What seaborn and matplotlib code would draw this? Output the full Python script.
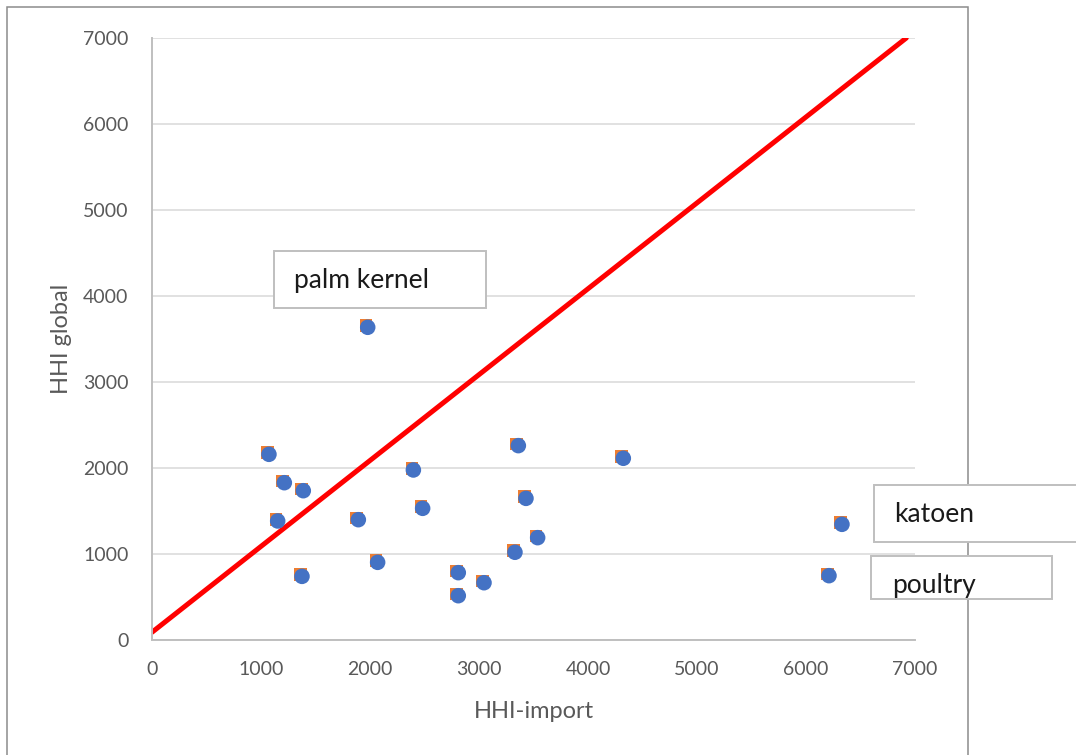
import numpy as np
import pandas as pd
import matplotlib
matplotlib.use("Agg")
import matplotlib.pyplot as plt
import matplotlib.patches as patches
from matplotlib.transforms import offset_copy
import seaborn as sns

# HHI values per product
hhi_import = [1073, 1214, 1388, 1153, 1893, 2398, 2483, 2070, 1376, 3361,
              4324, 3431, 3538, 3330, 2810, 2810, 3046, 1979, 6330, 6211]
hhi_global = [2159, 1829, 1736, 1384, 1399, 1977, 1531, 903, 740, 2260,
              2113, 1647, 1190, 1020, 783, 515, 666, 3636, 1345, 748]

# reference line
line_x = [0, 6920]
line_y = [90, 7000]

ticks = [0, 1000, 2000, 3000, 4000, 5000, 6000, 7000]

df = pd.DataFrame({"import": hhi_import, "global": hhi_global})
ref = pd.DataFrame({"x": line_x, "y": line_y})

sns.set_style("white")
plt.rcParams['font.family'] = ['Lato', 'DejaVu Sans']

fig = plt.figure(figsize=(10.76, 7.55), dpi=100)
W, H = 1076, 755

# outer chart frame
fig.patches.append(patches.Rectangle((7 / W, -0.01), (968 - 7) / W, 1 - 7 / H + 0.01,
                                     transform=fig.transFigure, fill=False,
                                     edgecolor='#8c8c8c', linewidth=1.1, zorder=0))

ax = fig.add_axes([152 / W, (H - 640) / H, (915 - 152) / W, (640 - 38) / H])
ax.set_facecolor('none')

ax.set_xlim(0, 7000)
ax.set_ylim(0, 7000)
ax.set_xticks(ticks)
ax.set_yticks(ticks)
ax.yaxis.grid(True, color='#d9d9d9', linewidth=1.1)
ax.xaxis.grid(False)
ax.set_axisbelow(True)
for s in ['top', 'right']:
    ax.spines[s].set_visible(False)
for s in ['left', 'bottom']:
    ax.spines[s].set_color('#bfbfbf')
    ax.spines[s].set_linewidth(1.4)

sns.lineplot(data=ref, x="x", y="y", color='#ff0000', linewidth=3.6,
             sort=False, ax=ax, zorder=2)

# second series (orange squares) peeking out behind the blue circles
shift = offset_copy(ax.transData, fig=fig, x=-1.2, y=1.2, units='points')
sns.scatterplot(data=df, x="import", y="global", marker='s', s=80,
                color='#ed7d31', edgecolor='none', transform=shift, ax=ax, zorder=3)
sns.scatterplot(data=df, x="import", y="global", marker='o', s=125,
                color='#4472c4', edgecolor='none', ax=ax, zorder=4)

ax.tick_params(axis='both', length=0, labelsize=14, labelcolor='#595959')
ax.tick_params(axis='y', pad=17)
ax.tick_params(axis='x', pad=15)
ax.set_xlabel("HHI-import", fontsize=17, color='#595959', labelpad=17)
ax.set_ylabel("HHI global", fontsize=17, color='#595959', labelpad=8)

# text boxes
boxes = [("palm kernel", 274, 251, 486, 308, 294, 281),
         ("katoen", 874, 485, 1090, 542, 894, 514),
         ("poultry", 871, 556, 1052, 599, 892, 586)]
for label, x0, y0, x1, y1, tx, ty in boxes:
    fig.patches.append(patches.Rectangle((x0 / W, 1 - y1 / H), (x1 - x0) / W, (y1 - y0) / H,
                                         transform=fig.transFigure, facecolor='white',
                                         edgecolor='#bfbfbf', linewidth=1.4, zorder=5))
    fig.text(tx / W, 1 - ty / H, label, fontsize=19, color='#1a1a1a',
             va='center', ha='left', zorder=6)

fig.savefig("out.png", dpi=100)
